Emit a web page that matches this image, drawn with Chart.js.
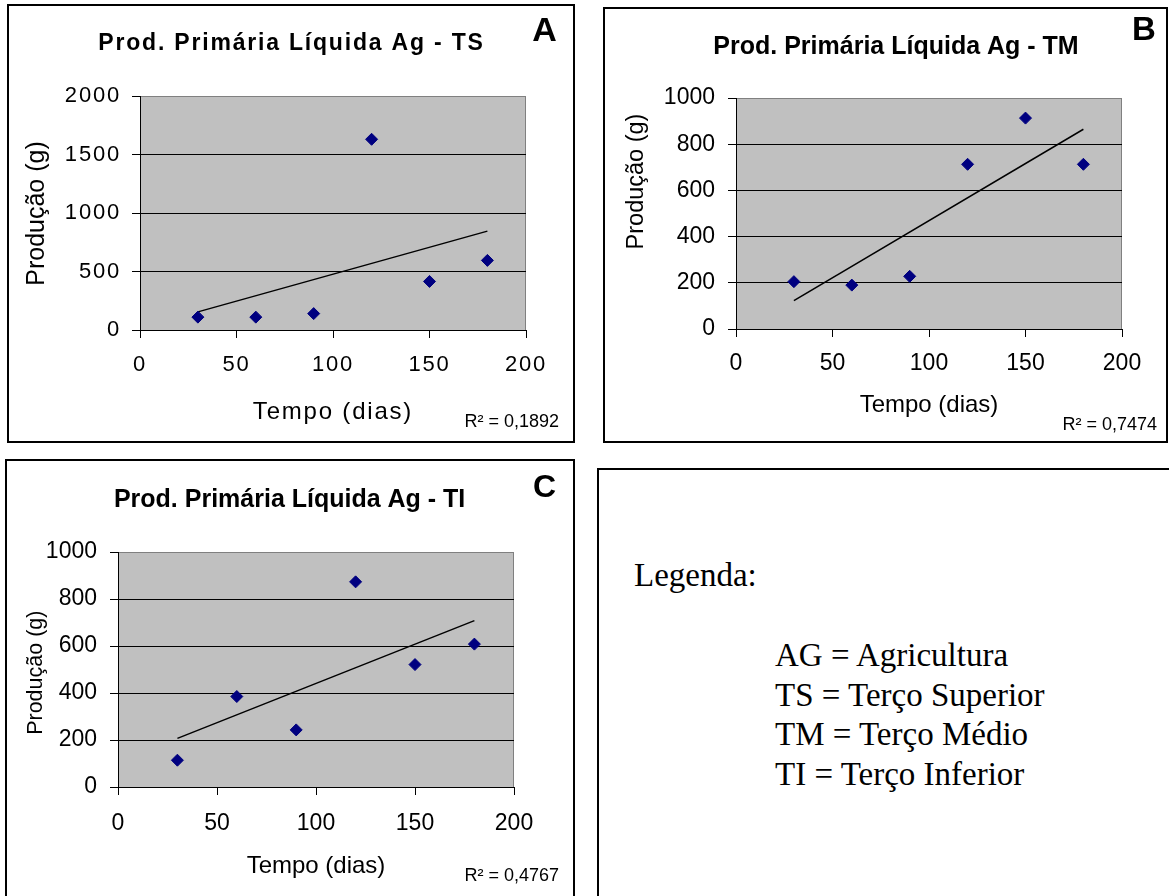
<!DOCTYPE html>
<html>
<head>
<meta charset="utf-8">
<script src="https://cdn.jsdelivr.net/npm/chart.js@4.4.1/dist/chart.umd.min.js"></script>
<style>
  html, body { margin: 0; padding: 0; background: #fff; overflow: hidden; }
  body { width: 1169px; height: 896px; position: relative; }
  .box { position: absolute; border: 2px solid #000; box-sizing: border-box; }
  canvas { position: absolute; }
  #legend { font-family: "Liberation Serif", "Times New Roman", serif; font-size: 33px; color: #000; }
  #legend div { position: absolute; white-space: nowrap; line-height: 39.5px; }
</style>
</head>
<body>
<div class="box" style="left:7px;top:4px;width:568px;height:439px"></div>
<div class="box" style="left:603px;top:7px;width:565px;height:436px"></div>
<div class="box" style="left:5px;top:459px;width:570px;height:450px"></div>
<div class="box" id="legend" style="left:597px;top:468px;width:590px;height:450px">
  <div style="left:35px;top:86px">Legenda:</div>
  <div style="left:176px;top:166px">AG = Agricultura<br>TS = Terço Superior<br>TM = Terço Médio<br>TI = Terço Inferior</div>
</div>
<canvas id="chartA" width="564" height="435" style="left:9px;top:6px"></canvas>
<canvas id="chartB" width="561" height="432" style="left:605px;top:9px"></canvas>
<canvas id="chartC" width="566" height="435" style="left:7px;top:461px"></canvas>
<script>
// values
const days = [30, 60, 90, 120, 150, 180];
const prodTS = [110, 110, 140, 1630, 415, 595];
const prodTM = [205, 190, 228, 713, 913, 713];
const prodTI = [114, 385, 243, 873, 521, 608];
const xTicks = [0, 50, 100, 150, 200];
const yTicksTS = [0, 500, 1000, 1500, 2000];
const yTicksTM = [0, 200, 400, 600, 800, 1000];
const yTicksTI = [0, 200, 400, 600, 800, 1000];
const titles = ['Prod. Primária Líquida Ag - TS', 'Prod. Primária Líquida Ag - TM', 'Prod. Primária Líquida Ag - TI'];
const r2Labels = ['R² = 0,1892', 'R² = 0,7474', 'R² = 0,4767'];
const letters = ['A', 'B', 'C'];
const xLabel = 'Tempo (dias)';
const yLabel = 'Produção (g)';

const FONT = '"Liberation Sans", Arial, sans-serif';

// linear trendline (least squares), like the Excel one
function trend(xs, ys) {
  const n = xs.length;
  const mx = xs.reduce((a, b) => a + b) / n;
  const my = ys.reduce((a, b) => a + b) / n;
  let sxy = 0, sxx = 0;
  xs.forEach((x, i) => { sxy += (x - mx) * (ys[i] - my); sxx += (x - mx) * (x - mx); });
  const b = sxy / sxx, a = my - b * mx;
  return [{x: xs[0], y: a + b * xs[0]}, {x: xs[n - 1], y: a + b * xs[n - 1]}];
}

// page positions of each panel
const panels = [
  { id: 'chartA', cx: 9, cy: 6, w: 564, h: 435, plot: {l: 140, r: 526, t: 96, b: 330},
    titleX: 291.5, titleY: 43.2, titleSize: 23, titleSpacing: 1.8,
    tickSize: 22, tickY: 364.5, yTickPad: 11, xTitleY: 412.5, xTitleSize: 24, spacing: 1.8,
    yTitle: {x: 37, y: 213.5, size: 25}, letter: {x: 544.5, y: 31.5, size: 34}, r2: {x: 559, y: 422, size: 18} },
  { id: 'chartB', cx: 605, cy: 9, w: 561, h: 432, plot: {l: 736, r: 1122, t: 98, b: 329},
    titleX: 896, titleY: 47, titleSize: 25, titleSpacing: 0,
    tickSize: 23, tickY: 363.8, yTickPad: 13, xTitleY: 405, xTitleSize: 24, spacing: 0,
    yTitle: {x: 636.5, y: 181.5, size: 23.5}, letter: {x: 1144, y: 31, size: 33}, r2: {x: 1157, y: 425, size: 18} },
  { id: 'chartC', cx: 7, cy: 461, w: 566, h: 435, plot: {l: 118, r: 514, t: 552, b: 787},
    titleX: 289.6, titleY: 500, titleSize: 25, titleSpacing: 0,
    tickSize: 23, tickY: 824, yTickPad: 13, xTitleY: 866, xTitleSize: 24, spacing: 0,
    yTitle: {x: 36.2, y: 672.7, size: 21.5}, letter: {x: 544.5, y: 488.5, size: 32}, r2: {x: 559, y: 876, size: 18} }
];

const plotBg = {
  id: 'plotBg',
  beforeDraw(chart) {
    const {ctx, chartArea: a} = chart;
    ctx.letterSpacing = (chart.$spacing || 0) + 'px';
    ctx.save();
    ctx.fillStyle = '#c0c0c0';
    ctx.fillRect(a.left, a.top, a.width, a.height);
    ctx.strokeStyle = '#808080';
    ctx.lineWidth = 1;
    ctx.beginPath();
    ctx.moveTo(a.right - 0.5, a.top);
    ctx.lineTo(a.right - 0.5, a.bottom);
    ctx.stroke();
    ctx.restore();
  }
};

function textLayer(items, ox, oy) {
  return {
    id: 'textLayer',
    afterDraw(chart) {
      const ctx = chart.ctx;
      items.forEach(it => {
        ctx.save();
        ctx.letterSpacing = (it.spacing || 0) + 'px';
        ctx.font = (it.bold ? 'bold ' : '') + it.size + 'px ' + FONT;
        ctx.fillStyle = '#000';
        ctx.textAlign = it.align;
        ctx.textBaseline = 'middle';
        ctx.translate(it.x - ox, it.y - oy);
        if (it.rot) ctx.rotate(it.rot);
        ctx.fillText(it.text, 0, 0);
        ctx.restore();
      });
    }
  };
}

function buildChart(p, xs, ys, yTicks, title, r2, letter) {
  const lh = s => s * 1.2;
  const padR = p.cx + p.w - p.plot.r;
  const yWidth = p.plot.l - p.cx;
  const xHeight = p.cy + p.h - p.plot.b;
  const yMax = yTicks[yTicks.length - 1];
  const tickFont = {family: FONT, size: p.tickSize};

  const chart = new Chart(document.getElementById(p.id), {
    type: 'scatter',
    data: {
      datasets: [
        {
          data: xs.map((x, i) => ({x: x, y: ys[i]})),
          pointStyle: 'rectRot',
          pointRadius: 6,
          backgroundColor: '#000080',
          borderColor: '#000080',
          borderWidth: 1,
          order: 1
        },
        {
          data: trend(xs, ys),
          showLine: true,
          borderColor: '#000',
          borderWidth: 1.5,
          pointRadius: 0,
          order: 2
        }
      ]
    },
    options: {
      responsive: false,
      animation: false,
      events: [],
      layout: { padding: { left: 0, right: padR, top: p.plot.t - p.cy, bottom: 0 } },
      plugins: {
        legend: { display: false },
        tooltip: { enabled: false },
        title: { display: false }
      },
      scales: {
        x: {
          type: 'linear',
          min: xTicks[0],
          max: xTicks[xTicks.length - 1],
          afterBuildTicks: s => { s.ticks = xTicks.map(v => ({value: v})); },
          afterFit: s => { s.height = xHeight; },
          grid: { drawOnChartArea: false, drawTicks: true, tickLength: 8, tickColor: '#000' },
          border: { color: '#000', width: 1 },
          ticks: {
            color: '#000',
            font: tickFont,
            padding: p.tickY - p.plot.b - 8 - lh(p.tickSize) / 2,
            maxRotation: 0,
            autoSkip: false,
            callback: v => String(v)
          },
          title: {
            display: true,
            text: xLabel,
            color: '#000',
            font: { family: FONT, size: p.xTitleSize },
            padding: { top: 0, bottom: p.cy + p.h - p.xTitleY - lh(p.xTitleSize) / 2 }
          }
        },
        y: {
          type: 'linear',
          min: yTicks[0],
          max: yMax,
          afterBuildTicks: s => { s.ticks = yTicks.map(v => ({value: v})); },
          afterFit: s => { s.width = yWidth; },
          grid: {
            color: c => (c.tick && c.tick.value === yMax) ? '#808080' : '#000',
            tickColor: '#000',
            tickLength: 8,
            lineWidth: 1
          },
          border: { color: '#000', width: 1 },
          ticks: { color: '#000', font: tickFont, padding: p.yTickPad, callback: v => String(v) }
        }
      }
    },
    plugins: [
      plotBg,
      textLayer([
        { text: title, x: p.titleX, y: p.titleY, size: p.titleSize, align: 'center', bold: true, spacing: p.titleSpacing },
        { text: yLabel, x: p.yTitle.x, y: p.yTitle.y, size: p.yTitle.size, align: 'center', rot: -Math.PI / 2 },
        { text: letter, x: p.letter.x, y: p.letter.y, size: p.letter.size, align: 'center', bold: true },
        { text: r2, x: p.r2.x, y: p.r2.y, size: p.r2.size, align: 'right' }
      ], p.cx, p.cy)
    ]
  });
  chart.$spacing = p.spacing;
  chart.draw();
}

buildChart(panels[0], days, prodTS, yTicksTS, titles[0], r2Labels[0], letters[0]);
buildChart(panels[1], days, prodTM, yTicksTM, titles[1], r2Labels[1], letters[1]);
buildChart(panels[2], days, prodTI, yTicksTI, titles[2], r2Labels[2], letters[2]);
</script>
</body>
</html>
